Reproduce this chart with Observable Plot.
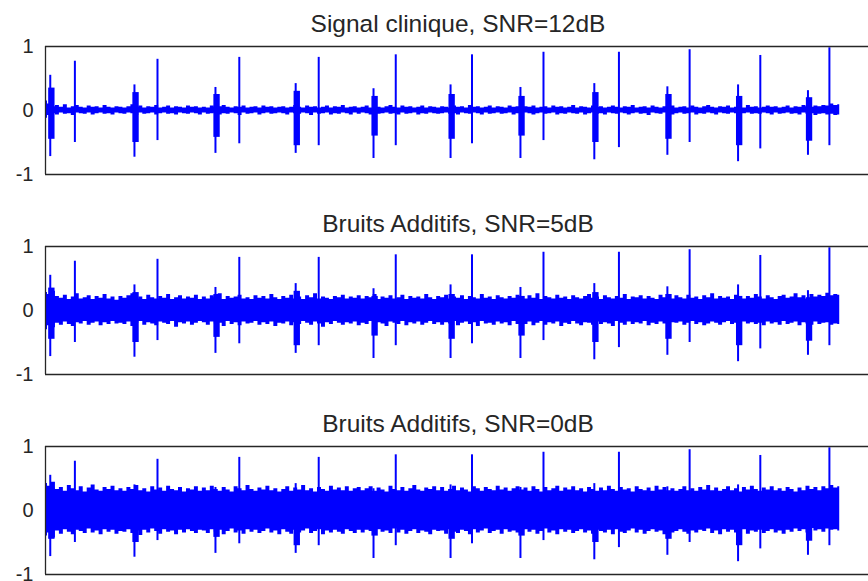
<!DOCTYPE html>
<html><head><meta charset="utf-8">
<script src="https://cdn.jsdelivr.net/npm/d3@7"></script>
<script src="https://cdn.jsdelivr.net/npm/@observablehq/plot@0.6"></script>
<style>
html,body{margin:0;padding:0;background:#fff;overflow:hidden;width:868px;height:581px}
#chart{position:relative;width:880px}
#chart svg{display:block;overflow:visible}
</style></head><body><div id="chart"></div>
<script>
// ---- text ----
const titles = ["Signal clinique, SNR=12dB", "Bruits Additifs, SNR=5dB", "Bruits Additifs, SNR=0dB"];
const yTicks = [-1, 0, 1];
const xDomain = [0, 10.40];          // seconds (signal lasts 10 s)

// ---- QRS complexes (wide, biphasic) ----
const aTime = [0.06, 1.12, 2.14, 3.15, 4.13, 5.10, 5.98, 6.91, 7.83, 8.72, 9.60];
const aHi   = [0.55, 0.40, 0.36, 0.42, 0.34, 0.40, 0.36, 0.42, 0.37, 0.40, 0.31];
const aLo   = [-0.72, -0.73, -0.67, -0.67, -0.75, -0.75, -0.75, -0.77, -0.70, -0.80, -0.70];
const aHi2  = [0.35, 0.28, 0.25, 0.30, 0.22, 0.25, 0.22, 0.28, 0.25, 0.22, 0.20];
const aLo2  = [-0.45, -0.50, -0.42, -0.55, -0.40, -0.45, -0.40, -0.50, -0.45, -0.55, -0.48];

// ---- narrow spikes ----
const sTime = [0.37, 1.41, 2.44, 3.44, 4.41, 5.37, 6.27, 7.22, 8.11, 9.00, 9.87];
const sHi   = [0.77, 0.80, 0.83, 0.83, 0.87, 0.87, 0.91, 0.91, 0.95, 0.86, 0.98];
const sLo   = [-0.50, -0.47, -0.52, -0.55, -0.55, -0.52, -0.47, -0.58, -0.50, -0.60, -0.55];

// ---- noise envelope, one value every 0.05 s (t = 0 .. 10) ----
const p1Hi = [
0.15,0.10,0.06,0.08,0.05,0.09,0.04,0.06,0.08,0.05,0.04,0.07,0.05,0.06,0.04,0.08,0.05,0.04,0.06,0.05,
0.04,0.06,0.09,0.05,0.07,0.04,0.06,0.05,0.08,0.04,0.05,0.07,0.04,0.06,0.05,0.04,0.07,0.05,0.06,0.04,
0.05,0.04,0.07,0.05,0.06,0.08,0.05,0.04,0.06,0.05,0.07,0.04,0.05,0.06,0.04,0.07,0.05,0.06,0.04,0.05,
0.06,0.04,0.05,0.08,0.05,0.04,0.07,0.05,0.06,0.04,0.05,0.07,0.04,0.06,0.05,0.08,0.04,0.05,0.06,0.04,
0.05,0.07,0.04,0.06,0.05,0.04,0.06,0.08,0.05,0.04,0.07,0.05,0.06,0.04,0.05,0.07,0.04,0.06,0.05,0.04,
0.06,0.05,0.04,0.07,0.05,0.06,0.04,0.08,0.05,0.06,0.04,0.05,0.07,0.04,0.06,0.05,0.04,0.07,0.05,0.06,
0.04,0.06,0.05,0.07,0.04,0.05,0.06,0.04,0.07,0.05,0.06,0.04,0.05,0.08,0.04,0.06,0.05,0.04,0.07,0.05,
0.06,0.04,0.05,0.07,0.05,0.04,0.06,0.05,0.08,0.04,0.05,0.06,0.04,0.07,0.05,0.04,0.06,0.05,0.07,0.04,
0.05,0.06,0.04,0.07,0.05,0.04,0.06,0.08,0.05,0.04,0.06,0.05,0.07,0.04,0.05,0.06,0.04,0.08,0.05,0.06,
0.04,0.05,0.07,0.05,0.06,0.04,0.05,0.07,0.04,0.06,0.05,0.08,0.06,0.05,0.07,0.06,0.08,0.07,0.10,0.08,
0.09];
const p1Lo = [
-0.12,-0.08,-0.05,-0.07,-0.04,-0.06,-0.05,-0.08,-0.04,-0.05,-0.06,-0.04,-0.07,-0.05,-0.04,-0.06,-0.05,-0.07,-0.04,-0.05,
-0.06,-0.04,-0.05,-0.08,-0.04,-0.06,-0.05,-0.04,-0.07,-0.05,-0.04,-0.06,-0.05,-0.07,-0.04,-0.05,-0.06,-0.04,-0.05,-0.07,
-0.04,-0.06,-0.05,-0.04,-0.07,-0.05,-0.06,-0.04,-0.05,-0.08,-0.04,-0.06,-0.05,-0.04,-0.07,-0.05,-0.04,-0.06,-0.05,-0.04,
-0.05,-0.07,-0.04,-0.05,-0.06,-0.04,-0.05,-0.08,-0.04,-0.06,-0.05,-0.04,-0.07,-0.05,-0.06,-0.04,-0.05,-0.07,-0.04,-0.06,
-0.04,-0.05,-0.07,-0.04,-0.06,-0.05,-0.04,-0.06,-0.05,-0.07,-0.04,-0.06,-0.05,-0.04,-0.07,-0.05,-0.06,-0.04,-0.05,-0.06,
-0.05,-0.04,-0.06,-0.05,-0.07,-0.04,-0.05,-0.06,-0.04,-0.05,-0.07,-0.04,-0.06,-0.05,-0.04,-0.06,-0.05,-0.04,-0.07,-0.05,
-0.06,-0.04,-0.05,-0.07,-0.05,-0.04,-0.06,-0.05,-0.04,-0.07,-0.05,-0.06,-0.04,-0.05,-0.06,-0.04,-0.07,-0.05,-0.04,-0.06,
-0.05,-0.07,-0.04,-0.05,-0.06,-0.04,-0.05,-0.07,-0.05,-0.04,-0.06,-0.05,-0.08,-0.04,-0.05,-0.06,-0.04,-0.05,-0.07,-0.05,
-0.04,-0.06,-0.05,-0.04,-0.07,-0.05,-0.06,-0.04,-0.05,-0.07,-0.04,-0.05,-0.06,-0.04,-0.05,-0.07,-0.05,-0.04,-0.06,-0.05,
-0.06,-0.04,-0.05,-0.07,-0.04,-0.06,-0.05,-0.04,-0.06,-0.05,-0.07,-0.04,-0.06,-0.05,-0.08,-0.06,-0.05,-0.07,-0.06,-0.08,
-0.07];
const p2Hi = [
0.28,0.25,0.30,0.22,0.19,0.24,0.17,0.21,0.26,0.18,0.20,0.23,0.17,0.22,0.19,0.25,0.18,0.21,0.16,0.22,
0.19,0.23,0.26,0.18,0.21,0.17,0.24,0.20,0.18,0.22,0.19,0.25,0.17,0.20,0.23,0.18,0.21,0.19,0.24,0.17,
0.21,0.18,0.23,0.20,0.26,0.17,0.22,0.19,0.21,0.24,0.18,0.20,0.17,0.23,0.19,0.22,0.18,0.25,0.20,0.17,
0.22,0.19,0.24,0.18,0.21,0.17,0.23,0.20,0.26,0.18,0.21,0.19,0.17,0.22,0.20,0.24,0.18,0.21,0.19,0.23,
0.18,0.22,0.20,0.25,0.17,0.21,0.19,0.23,0.18,0.20,0.24,0.17,0.22,0.19,0.21,0.18,0.25,0.20,0.17,0.22,
0.20,0.24,0.18,0.21,0.19,0.23,0.17,0.22,0.20,0.18,0.25,0.19,0.21,0.17,0.23,0.20,0.18,0.22,0.19,0.24,
0.21,0.18,0.23,0.19,0.26,0.17,0.22,0.20,0.18,0.24,0.19,0.21,0.17,0.23,0.20,0.18,0.22,0.25,0.19,0.21,
0.17,0.23,0.20,0.18,0.22,0.19,0.25,0.17,0.21,0.20,0.23,0.18,0.22,0.19,0.17,0.24,0.20,0.21,0.18,0.23,
0.20,0.18,0.24,0.19,0.21,0.17,0.23,0.20,0.26,0.18,0.22,0.19,0.21,0.17,0.24,0.20,0.18,0.22,0.19,0.25,
0.21,0.18,0.23,0.20,0.17,0.22,0.24,0.19,0.21,0.26,0.20,0.23,0.18,0.25,0.21,0.24,0.22,0.27,0.23,0.25,
0.24];
const p2Lo = [
-0.30,-0.24,-0.27,-0.20,-0.23,-0.18,-0.22,-0.25,-0.19,-0.21,-0.17,-0.23,-0.20,-0.18,-0.24,-0.19,-0.22,-0.17,-0.21,-0.20,
-0.22,-0.18,-0.25,-0.20,-0.17,-0.23,-0.19,-0.21,-0.24,-0.18,-0.20,-0.22,-0.17,-0.26,-0.19,-0.21,-0.18,-0.23,-0.20,-0.17,
-0.19,-0.23,-0.18,-0.21,-0.20,-0.25,-0.17,-0.22,-0.19,-0.24,-0.18,-0.21,-0.20,-0.17,-0.23,-0.19,-0.22,-0.18,-0.25,-0.20,
-0.21,-0.18,-0.24,-0.19,-0.22,-0.17,-0.20,-0.23,-0.18,-0.21,-0.26,-0.19,-0.22,-0.17,-0.20,-0.23,-0.19,-0.21,-0.18,-0.24,
-0.20,-0.22,-0.17,-0.23,-0.19,-0.21,-0.25,-0.18,-0.20,-0.22,-0.17,-0.24,-0.19,-0.21,-0.18,-0.23,-0.20,-0.17,-0.22,-0.19,
-0.23,-0.19,-0.21,-0.17,-0.24,-0.20,-0.18,-0.22,-0.19,-0.25,-0.17,-0.21,-0.20,-0.23,-0.18,-0.21,-0.19,-0.24,-0.17,-0.22,
-0.19,-0.22,-0.18,-0.24,-0.20,-0.17,-0.23,-0.19,-0.21,-0.18,-0.25,-0.20,-0.22,-0.17,-0.21,-0.24,-0.19,-0.20,-0.23,-0.18,
-0.22,-0.19,-0.21,-0.25,-0.17,-0.20,-0.23,-0.18,-0.22,-0.19,-0.21,-0.17,-0.24,-0.20,-0.22,-0.18,-0.21,-0.23,-0.19,-0.20,
-0.18,-0.23,-0.20,-0.17,-0.22,-0.19,-0.24,-0.21,-0.18,-0.20,-0.23,-0.19,-0.17,-0.22,-0.20,-0.25,-0.18,-0.21,-0.19,-0.22,
-0.20,-0.24,-0.18,-0.21,-0.19,-0.23,-0.17,-0.22,-0.20,-0.18,-0.24,-0.19,-0.21,-0.23,-0.18,-0.22,-0.20,-0.19,-0.23,-0.21,
-0.22];
const p3Hi = [
0.42,0.38,0.44,0.33,0.36,0.30,0.39,0.34,0.31,0.37,0.29,0.35,0.40,0.32,0.30,0.36,0.33,0.38,0.31,0.34,
0.30,0.36,0.33,0.39,0.31,0.34,0.29,0.37,0.32,0.35,0.30,0.38,0.33,0.31,0.36,0.29,0.34,0.32,0.37,0.30,
0.35,0.31,0.38,0.33,0.30,0.36,0.32,0.29,0.37,0.34,0.31,0.39,0.33,0.30,0.35,0.32,0.38,0.31,0.34,0.29,
0.33,0.37,0.30,0.35,0.32,0.39,0.31,0.34,0.29,0.36,0.33,0.30,0.38,0.32,0.35,0.31,0.37,0.30,0.34,0.36,
0.31,0.34,0.37,0.30,0.35,0.32,0.29,0.38,0.33,0.31,0.36,0.30,0.34,0.39,0.32,0.30,0.35,0.33,0.37,0.31,
0.36,0.30,0.33,0.38,0.31,0.35,0.32,0.29,0.37,0.34,0.30,0.36,0.33,0.31,0.38,0.32,0.35,0.30,0.34,0.37,
0.32,0.35,0.30,0.37,0.33,0.29,0.36,0.31,0.34,0.38,0.30,0.35,0.32,0.37,0.31,0.34,0.29,0.36,0.33,0.30,
0.35,0.31,0.38,0.33,0.30,0.36,0.32,0.34,0.29,0.37,0.33,0.31,0.35,0.30,0.38,0.32,0.36,0.31,0.34,0.30,
0.33,0.37,0.31,0.34,0.30,0.36,0.32,0.39,0.31,0.35,0.30,0.33,0.37,0.31,0.34,0.29,0.36,0.32,0.38,0.33,
0.30,0.35,0.32,0.37,0.31,0.34,0.30,0.36,0.33,0.29,0.35,0.31,0.38,0.33,0.36,0.31,0.37,0.34,0.39,0.35,
0.37];
const p3Lo = [
-0.40,-0.35,-0.43,-0.32,-0.37,-0.30,-0.34,-0.38,-0.31,-0.33,-0.36,-0.29,-0.35,-0.32,-0.38,-0.30,-0.34,-0.31,-0.37,-0.33,
-0.34,-0.30,-0.36,-0.32,-0.39,-0.31,-0.35,-0.29,-0.33,-0.37,-0.30,-0.34,-0.32,-0.38,-0.31,-0.35,-0.30,-0.33,-0.36,-0.31,
-0.32,-0.36,-0.30,-0.34,-0.31,-0.38,-0.33,-0.29,-0.35,-0.32,-0.37,-0.30,-0.34,-0.31,-0.36,-0.33,-0.29,-0.35,-0.32,-0.38,
-0.30,-0.34,-0.37,-0.31,-0.35,-0.32,-0.29,-0.36,-0.33,-0.30,-0.38,-0.32,-0.35,-0.31,-0.34,-0.37,-0.30,-0.33,-0.36,-0.31,
-0.35,-0.31,-0.33,-0.38,-0.30,-0.34,-0.32,-0.36,-0.29,-0.35,-0.31,-0.37,-0.33,-0.30,-0.36,-0.32,-0.34,-0.38,-0.31,-0.33,
-0.32,-0.37,-0.30,-0.34,-0.36,-0.31,-0.33,-0.38,-0.30,-0.35,-0.32,-0.29,-0.36,-0.33,-0.31,-0.37,-0.30,-0.34,-0.32,-0.35,
-0.36,-0.30,-0.34,-0.31,-0.37,-0.33,-0.29,-0.35,-0.32,-0.38,-0.30,-0.34,-0.31,-0.36,-0.33,-0.30,-0.35,-0.32,-0.37,-0.31,
-0.33,-0.35,-0.31,-0.38,-0.30,-0.34,-0.36,-0.32,-0.29,-0.35,-0.31,-0.37,-0.33,-0.30,-0.34,-0.32,-0.38,-0.31,-0.35,-0.33,
-0.30,-0.34,-0.37,-0.32,-0.35,-0.31,-0.33,-0.29,-0.36,-0.32,-0.38,-0.30,-0.34,-0.31,-0.35,-0.33,-0.30,-0.37,-0.32,-0.34,
-0.31,-0.36,-0.33,-0.30,-0.35,-0.32,-0.37,-0.31,-0.34,-0.29,-0.33,-0.30,-0.35,-0.28,-0.32,-0.30,-0.34,-0.29,-0.31,-0.30,
-0.32];

const envelopes = [[p1Lo, p1Hi], [p2Lo, p2Hi], [p3Lo, p3Hi]];
const sampleTimes = p1Hi.map((_, j) => j / 20);

const complexes = aTime.map((t, i) => ({t, lo: aLo[i], hi: aHi[i], lo2: aLo2[i], hi2: aHi2[i]}));
const spikes = sTime.map((t, i) => ({t, lo: sLo[i], hi: sHi[i]}));

const BLUE = "#0000ff", INK = "#262626";
const root = document.getElementById("chart");

envelopes.forEach(([lo, hi], k) => {
  const band = sampleTimes.map((t, j) => ({t, lo: lo[j], hi: hi[j]}));
  const svg = Plot.plot({
    width: 872, height: 200,
    marginLeft: 45, marginRight: 1, marginTop: 46, marginBottom: 26,
    style: {fontFamily: "'Liberation Sans', Arial, sans-serif", fontSize: "20px", color: INK, background: "#fff", overflow: "visible"},
    x: {domain: xDomain, axis: null},
    y: {domain: [-1, 1], ticks: yTicks, tickSize: 0, tickPadding: 12, tickFormat: d => String(d), label: null},
    marks: [
      Plot.areaY(band, {x: "t", y1: "lo", y2: "hi", curve: "step", fill: BLUE}),
      Plot.rect(complexes, {x1: d => Math.max(0, d.t - 0.02), x2: d => d.t + 0.06, y1: "lo2", y2: "hi2", fill: BLUE}),
      Plot.ruleX(complexes, {x: "t", y1: "lo", y2: "hi", stroke: BLUE, strokeWidth: 2}),
      Plot.ruleX(spikes, {x: "t", y1: "lo", y2: "hi", stroke: BLUE, strokeWidth: 2}),
      Plot.ruleY([-1, 1], {stroke: INK, strokeWidth: 1.3}),
      Plot.ruleX([0], {stroke: INK, strokeWidth: 1.3})
    ]
  });
  d3.select(svg).append("text")
    .attr("x", 45 + (872 - 46) / 2)
    .attr("y", 31.5)
    .attr("text-anchor", "middle")
    .attr("fill", INK)
    .style("font-size", "24.5px")
    .text(titles[k]);
  root.appendChild(svg);
});
</script></body></html>
